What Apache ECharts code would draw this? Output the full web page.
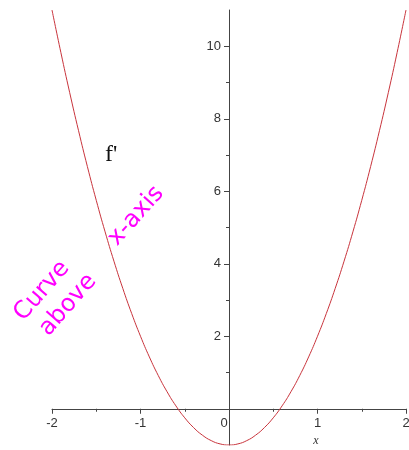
<!DOCTYPE html>
<html>
<head>
<meta charset="utf-8">
<script src="https://cdn.jsdelivr.net/npm/echarts@6/dist/echarts.min.js"></script>
<style>
  html, body { margin: 0; padding: 0; background: #fff; }
  #chart { width: 409px; height: 450px; }
</style>
</head>
<body>
<div id="chart"></div>
<script>
// sample positions along x and the derivative values read at each
const xValues = [-2, -1.9, -1.8, -1.7, -1.6, -1.5, -1.4, -1.3, -1.2, -1.1, -1,
  -0.9, -0.8, -0.7, -0.6, -0.5, -0.4, -0.3, -0.2, -0.1, 0,
  0.1, 0.2, 0.3, 0.4, 0.5, 0.6, 0.7, 0.8, 0.9, 1,
  1.1, 1.2, 1.3, 1.4, 1.5, 1.6, 1.7, 1.8, 1.9, 2];
const fPrimeValues = [11, 9.83, 8.72, 7.67, 6.68, 5.75, 4.88, 4.07, 3.32, 2.63, 2,
  1.43, 0.92, 0.47, 0.08, -0.25, -0.52, -0.73, -0.88, -0.97, -1,
  -0.97, -0.88, -0.73, -0.52, -0.25, 0.08, 0.47, 0.92, 1.43, 2,
  2.63, 3.32, 4.07, 4.88, 5.75, 6.68, 7.67, 8.72, 9.83, 11];
const xTickLabels = ['-2', '-1', '0', '1', '2'];
const yMajorTicks = [0, 2, 4, 6, 8, 10];
const yMinorTicks = [1, 3, 5, 7, 9];
const yTickLabels = [2, 4, 6, 8, 10];

const axisColor = '#444';
const labelFont = { color: '#333', fontSize: 13, fontFamily: 'Liberation Sans' };

// grid box: x from -2..2 over 52..406, y from -1..11 over 445..10
const gridLeft = 52, gridRight = 3, gridTop = 10, gridBottom = 5;
const plotW = 409 - gridLeft - gridRight;
const plotH = 450 - gridTop - gridBottom;
// shift the axes so they cross at the origin
const yAxisShift = -plotW * (0 - (-2)) / 4;       // moves the y axis right to x = 0
const xAxisShift = -plotH * (0 - (-1)) / 12;      // moves the x axis up to y = 0

const chart = echarts.init(document.getElementById('chart'), null, { renderer: 'canvas' });

chart.setOption({
  animation: false,
  backgroundColor: '#fff',
  grid: { left: gridLeft, right: gridRight, top: gridTop, bottom: gridBottom, containLabel: false, outerBoundsMode: 'none' },
  xAxis: {
    type: 'value',
    position: 'bottom',
    offset: xAxisShift,
    min: -2, max: 2, interval: 1,
    axisLine: { onZero: false, lineStyle: { color: axisColor, width: 1 } },
    axisTick: { show: true, inside: false, length: 5, lineStyle: { color: axisColor } },
    minorTick: { show: true, splitNumber: 2, length: 3, lineStyle: { color: axisColor } },
    splitLine: { show: false },
    axisLabel: Object.assign({
      margin: 8,
      showMinLabel: true, showMaxLabel: true,
      formatter: function (v) {
        const s = xTickLabels[Math.round(v) + 2];
        return v === 0 ? '{z|' + s + '}' : s;
      },
      rich: { z: { padding: [0, 10, 0, 0], color: '#333', fontSize: 13, fontFamily: 'Liberation Sans' } }
    }, labelFont)
  },
  yAxis: [{
    type: 'value',
    position: 'left',
    offset: yAxisShift,
    min: -1, max: 11, interval: 1,
    axisLine: { onZero: false, lineStyle: { color: axisColor, width: 1 } },
    axisTick: { show: true, inside: false, length: 5, customValues: yMajorTicks, lineStyle: { color: axisColor } },
    splitLine: { show: false },
    axisLabel: Object.assign({ margin: 8, customValues: yTickLabels }, labelFont)
  }, {
    type: 'value',
    position: 'left',
    offset: yAxisShift,
    min: -1, max: 11, interval: 1,
    axisLine: { show: false, onZero: false },
    axisTick: { show: true, inside: false, length: 3, customValues: yMinorTicks, lineStyle: { color: axisColor } },
    splitLine: { show: false },
    axisLabel: { show: false }
  }],
  series: [{
    type: 'line',
    data: xValues.map((x, i) => [x, fPrimeValues[i]]),
    smooth: true,
    showSymbol: false,
    lineStyle: { color: '#c8343c', width: 1 },
    z: 3
  }],
  graphic: [
    { type: 'text', x: 316, y: 441,
      style: { text: 'x', fill: '#333', font: 'italic 12px "Liberation Serif"', align: 'center', verticalAlign: 'middle' } },
    { type: 'text', x: 105, y: 155,
      style: { text: "f'", fill: '#111', font: '24px "Liberation Serif"', align: 'left', verticalAlign: 'middle' } },
    { type: 'text', x: 42, y: 291, rotation: 0.85,
      style: { text: 'Curve', fill: '#ff00ff', font: '24px "DejaVu Sans"', align: 'center', verticalAlign: 'middle' } },
    { type: 'text', x: 68, y: 305, rotation: 0.85,
      style: { text: 'above', fill: '#ff00ff', font: '24px "DejaVu Sans"', align: 'center', verticalAlign: 'middle' } },
    { type: 'text', x: 136, y: 216, rotation: 0.84,
      style: { text: 'x-axis', fill: '#ff00ff', font: '24px "DejaVu Sans"', align: 'center', verticalAlign: 'middle' } }
  ]
});
</script>
</body>
</html>
